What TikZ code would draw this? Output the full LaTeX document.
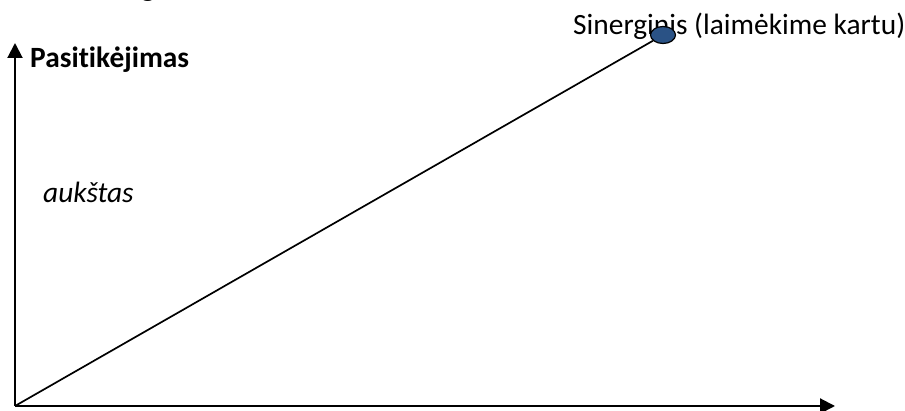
\documentclass[tikz,border=0pt]{standalone}
\usepackage{fontspec}
\setmainfont{Carlito}[Ligatures=NoCommon]
\usetikzlibrary{arrows.meta,shapes.geometric}
\definecolor{dotblue}{HTML}{2A5285}

\begin{document}
\begin{tikzpicture}[x=1pt, y=1pt, >={Triangle[length=15pt,width=15pt]}]
  \tikzset{txt/.style={font=\fontsize{29.4}{34}\selectfont, inner sep=0pt, anchor=base west}}
  \useasboundingbox (0,0) rectangle (905,411);
  % axes
  \coordinate (O) at (15,5);
  \coordinate (ytip) at (15,368);
  \coordinate (xtip) at (835,5);
  \draw[line width=2pt, ->] (O) -- (ytip);
  \draw[line width=2pt, ->] (O) -- (xtip);
  % cut-off heading
  \node[txt, font=\fontsize{29.4}{34}\selectfont\bfseries] (head) at (141,414) {g};
  \node[txt, font=\fontsize{29.4}{34}\selectfont\bfseries] (ylab) at (30,343) {Pasitikėjimas};
  \node[txt, font=\fontsize{29.4}{34}\selectfont\itshape] (high) at (43,208) {aukštas};
  \node[txt] (synlab) at (573,376) {Sinerginis (laimėkime kartu)};
  \node[ellipse, draw, line width=1.2pt, fill=dotblue, minimum width=25pt, minimum height=17pt, inner sep=0pt] (syn) at (663,376) {};
  \draw[line width=1.7pt] (O) -- (syn);
\end{tikzpicture}
\end{document}
